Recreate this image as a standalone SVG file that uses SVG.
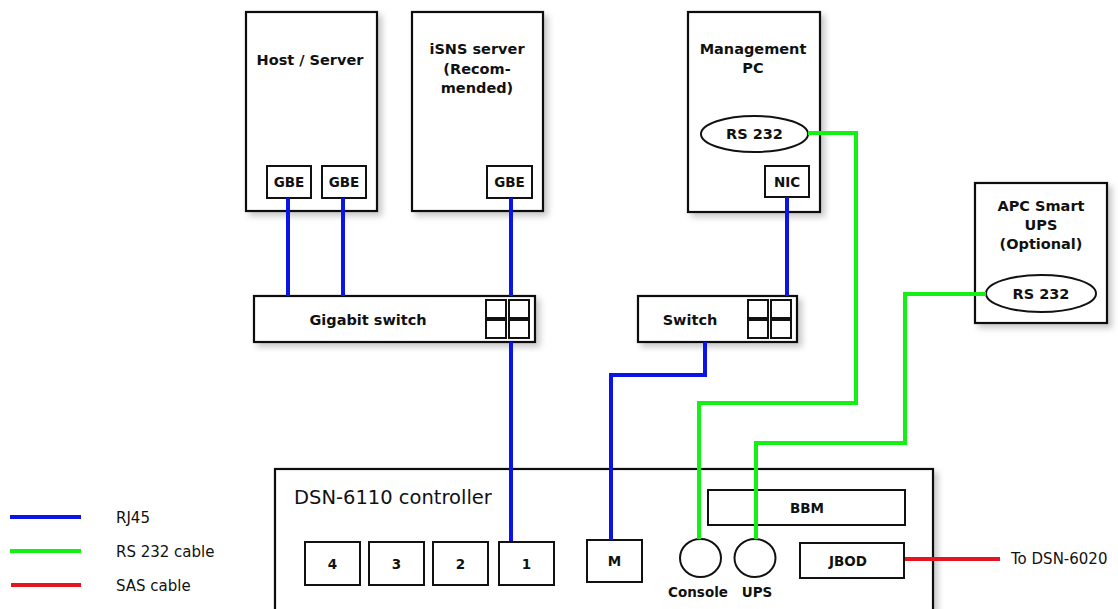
<svg xmlns="http://www.w3.org/2000/svg" width="1118" height="609" viewBox="0 0 1118 609">
<defs>
<filter id="sh" x="-10%" y="-10%" width="130%" height="130%">
<feDropShadow dx="4" dy="4" stdDeviation="3" flood-color="#000" flood-opacity="0.22"/>
</filter>
<style>
.box{fill:#fff;stroke:#111;stroke-width:2}
.outer{fill:#fff;stroke:#111;stroke-width:2.2;filter:url(#sh)}
.b{font-family:"DejaVu Sans",Verdana,sans-serif;font-weight:bold;font-size:14.5px;fill:#111;text-anchor:middle}
.s{font-family:"DejaVu Sans",Verdana,sans-serif;font-weight:bold;font-size:13.5px;fill:#111;text-anchor:middle}
.r{font-family:"DejaVu Sans",Verdana,sans-serif;font-size:15px;fill:#111}
.blue{fill:none;stroke:#0a14e6;stroke-width:4}
.green{fill:none;stroke:#14f014;stroke-width:4}
.red{fill:none;stroke:#e6141e;stroke-width:4}
</style>
</defs>
<rect width="1118" height="609" fill="#fff"/>

<g id="host-server">
<rect class="outer" x="246" y="12" width="131" height="199"/>
<text class="b" x="310" y="65">Host / Server</text>
<rect class="box" x="267" y="166" width="44" height="32"/>
<text class="s" x="289" y="187">GBE</text>
<rect class="box" x="322" y="166" width="44" height="32"/>
<text class="s" x="344" y="187">GBE</text>
</g>

<g id="isns-server">
<rect class="outer" x="412" y="12" width="131" height="199"/>
<text class="b" x="477" y="54">iSNS server</text>
<text class="b" x="477" y="74">(Recom-</text>
<text class="b" x="477" y="93">mended)</text>
<rect class="box" x="487" y="166" width="45" height="32"/>
<text class="s" x="509.5" y="187">GBE</text>
</g>

<g id="management-pc">
<rect class="outer" x="688" y="12" width="132" height="200"/>
<text class="b" x="753" y="54">Management</text>
<text class="b" x="753" y="73">PC</text>
<ellipse class="box" cx="754.5" cy="134" rx="53.5" ry="18"/>
<text class="b" x="754.5" y="139">RS 232</text>
<rect class="box" x="765" y="166" width="44" height="31"/>
<text class="s" x="787" y="187">NIC</text>
</g>

<g id="apc-ups">
<rect class="outer" x="975" y="183" width="132" height="140"/>
<text class="b" x="1041" y="211">APC Smart</text>
<text class="b" x="1041" y="230">UPS</text>
<text class="b" x="1041" y="249">(Optional)</text>
<ellipse class="box" cx="1041" cy="293.5" rx="55" ry="18.5"/>
<text class="b" x="1041" y="298.5">RS 232</text>
</g>

<g id="gigabit-switch">
<rect class="outer" x="254" y="296" width="281" height="46"/>
<text class="b" x="368" y="325">Gigabit switch</text>
<rect class="box" x="486" y="300" width="20" height="18"/>
<rect class="box" x="509" y="300" width="20" height="18"/>
<rect class="box" x="486" y="320" width="20" height="18"/>
<rect class="box" x="509" y="320" width="20" height="18"/>
</g>

<g id="switch">
<rect class="outer" x="638" y="296" width="159" height="46"/>
<text class="b" x="690" y="325">Switch</text>
<rect class="box" x="748" y="300" width="20" height="18"/>
<rect class="box" x="771" y="300" width="20" height="18"/>
<rect class="box" x="748" y="320" width="20" height="18"/>
<rect class="box" x="771" y="320" width="20" height="18"/>
</g>

<g id="dsn-6110-controller">
<rect class="outer" x="275" y="469" width="658" height="160"/>
<text class="r" x="294" y="504" style="font-size:19.5px">DSN-6110 controller</text>
<rect class="box" x="305" y="542" width="55" height="43"/>
<text class="s" x="332.5" y="569">4</text>
<rect class="box" x="369" y="542" width="55" height="43"/>
<text class="s" x="396.5" y="569">3</text>
<rect class="box" x="433" y="542" width="55" height="43"/>
<text class="s" x="460.5" y="569">2</text>
<rect class="box" x="499" y="542" width="55" height="43"/>
<text class="s" x="526.5" y="569">1</text>
<rect class="box" x="587" y="540" width="55" height="42"/>
<text class="s" x="614.5" y="566">M</text>
<ellipse class="box" cx="700.5" cy="558" rx="20.5" ry="19"/>
<text class="s" x="698" y="597">Console</text>
<ellipse class="box" cx="755" cy="558" rx="20.5" ry="19"/>
<text class="s" x="757" y="597">UPS</text>
<rect class="box" x="708" y="490" width="197" height="35"/>
<text class="s" x="807" y="513">BBM</text>
<rect class="box" x="800" y="543" width="104" height="35"/>
<text class="s" x="848" y="566">JBOD</text>
</g>

<g id="connectors">
<path class="blue" d="M288,198 V296"/>
<path class="blue" d="M343,198 V296"/>
<path class="blue" d="M511,198 V296"/>
<path class="blue" d="M511,342 V541"/>
<path class="blue" d="M787,197 V296"/>
<path class="blue" d="M705,342 V375 H611 V540"/>
<path class="green" d="M808,133 H856 V403 H699 V539"/>
<path class="green" d="M986,294 H905 V443 H756 V539"/>
<path class="red" d="M905,559 H1000"/>
</g>

<text class="r" x="1011" y="564">To DSN-6020</text>

<g id="legend">
<line class="blue" x1="10" y1="517" x2="81" y2="517"/>
<text class="r" x="116" y="523">RJ45</text>
<line class="green" x1="10" y1="551" x2="81" y2="551"/>
<text class="r" x="116" y="557">RS 232 cable</text>
<line class="red" x1="11" y1="585" x2="81" y2="585"/>
<text class="r" x="116" y="591">SAS cable</text>
</g>
</svg>
